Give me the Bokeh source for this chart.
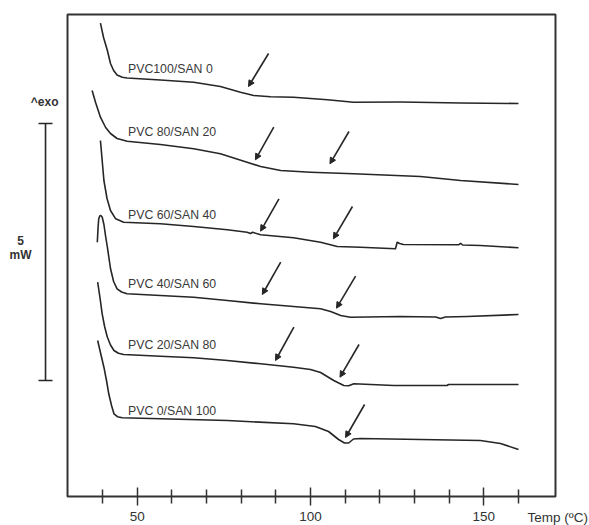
from bokeh.plotting import figure
from bokeh.models import (Range1d, FixedTicker, ColumnDataSource, Arrow, NormalHead,
                          TeeHead, Label, LabelSet, LinearAxis)
from bokeh.core.properties import value
from bokeh.embed import file_html
from bokeh.resources import INLINE

# ---- data: temperature (deg C) and heat flow (arbitrary units, curves offset) ----
t_pvc100 = [39.4, 40.3, 41.4, 42.3, 43.2, 44.2, 45.7, 47.1, 56.7, 66.3, 74.0, 79.8, 83.6, 88.5,
            95.1, 104.9, 112.4, 126.0, 143.3, 160.0]
y_pvc100 = [473.3, 459, 446, 433, 426, 421.5, 419.3, 418.5, 416.5, 414.3, 410, 404.3, 401, 399.7,
            399.3, 396.7, 394.3, 394.5, 393.5, 393]

t_pvc80 = [37.0, 38.0, 39.4, 40.9, 42.3, 44.2, 47.1, 56.7, 66.3, 74.0, 81.7, 85.6, 91.4, 100.0,
           112.4, 131.7, 143.3, 160.0]
y_pvc80 = [406, 394, 379.3, 369, 363, 358, 355.3, 352, 347.7, 342.7, 334.3, 330, 326, 324.3,
           322.7, 320, 316, 312]

t_pvc60 = [39.4, 39.9, 40.4, 41.3, 42.3, 43.8, 46.1, 56.7, 66.3, 76.0, 81.7, 82.7, 83.3, 85.6,
           95.1, 102.9, 107.7, 114.4, 124.5, 125.0, 125.7, 126.8, 142.7, 143.3, 143.9, 149.0, 160.0]
y_pvc60 = [356, 336, 316, 298, 286, 277.7, 274.3, 272.7, 270, 266.7, 264.3, 263, 264.2, 261.7,
           258.7, 254.3, 250, 249.3, 247.7, 254.3, 253, 252, 251.7, 253.2, 251.5, 251, 248.7]

t_pvc40 = [38.5, 38.7, 38.9, 39.2, 39.5, 39.9, 40.4, 40.9, 41.4, 42.3, 43.2, 44.2, 45.5, 47.1, 56.7,
           66.3, 76.0, 85.6, 95.1, 102.9, 105.8, 108.7, 111.5, 126.0, 136.1, 137.5, 138.9, 145.2, 160.0]
y_pvc40 = [254.3, 268, 277.5, 280.5, 281, 279.5, 272, 260, 249.3, 228, 215, 207.7, 204.5, 202.7, 201,
           199.3, 196, 192.7, 190, 187.7, 185, 181, 179.3, 180, 179.5, 178, 179.5, 180, 182]

t_pvc20 = [38.6, 39.3, 39.9, 40.6, 41.4, 42.3, 43.3, 44.6, 46.1, 56.7, 66.3, 76.0, 85.6, 95.1,
           100.0, 102.9, 106.7, 109.6, 111.0, 112.5, 124.0, 139.4, 139.8, 160.0]
y_pvc20 = [214.3, 198, 182.7, 170, 159.3, 151.5, 146, 143.2, 142, 140.3, 138.7, 136, 132.7, 129.3,
           127, 124, 116, 111, 110.8, 112.7, 111, 111, 112, 112]

t_pvc0 = [38.6, 39.4, 40.4, 41.2, 41.8, 42.6, 43.3, 44.3, 45.7, 56.7, 76.0, 95.1, 101.4, 105.2,
          108.1, 109.8, 111.0, 112.4, 114.4, 131.7, 149.0, 154.8, 160.0]
y_pvc0 = [156, 144, 129.3, 115, 102.7, 91, 82.7, 79.8, 78.7, 77.7, 76, 72.7, 70, 65,
          57, 53.5, 53.5, 57.5, 58, 57, 56, 53, 47]

curve_names = ["PVC100/SAN 0", "PVC 80/SAN 20", "PVC 60/SAN 40",
               "PVC 40/SAN 60", "PVC 20/SAN 80", "PVC 0/SAN 100"]
name_t = [47.35] * 6
name_y = [428, 364.3, 281.7, 212.7, 152, 86]

# Tg arrows (tail -> tip)
arrow_t0 = [87.9, 89.4, 111.1, 90.9, 112.1, 91.4, 113.0, 95.2, 114.0, 115.6]
arrow_y0 = [443, 369.3, 365, 297.7, 290, 234.3, 220.3, 169.3, 152, 92]
arrow_t1 = [82.1, 84.1, 105.6, 85.6, 106.6, 86.1, 107.5, 89.9, 108.5, 110.1]
arrow_y1 = [410, 336.7, 332.7, 265.3, 257.7, 202, 188.3, 136, 119.3, 59]

major_ticks = [50, 100, 150]
minor_ticks = [40, 60, 70, 80, 90, 110, 120, 130, 140, 160]

# plotting box (data limits of the drawn frame)
box_t = (29.9, 170.67)
box_y = (0, 482)

# scale bar: 5 mW
bar_t = 23.56
bar_low, bar_high = 116, 373

INK = "#262626"
FONT = "Arial"

p = figure(width=589, height=525, x_range=Range1d(10.57, 180.48), y_range=Range1d(-29, 496),
           output_backend="svg", toolbar_location=None, x_axis_location=None,
           y_axis_location=None, min_border=0)
p.grid.visible = False
p.outline_line_color = None
p.background_fill_color = "white"
p.border_fill_color = "white"

# frame box
p.quad(left=box_t[0], right=box_t[1], bottom=box_y[0], top=box_y[1],
       fill_color=None, line_color="#333333", line_width=2)

xa = LinearAxis(fixed_location=0)
p.add_layout(xa, "below")
xa.ticker = FixedTicker(ticks=major_ticks, minor_ticks=minor_ticks)
xa.axis_line_color = None
xa.major_tick_line_color = "#333333"
xa.major_tick_line_width = 1.5
xa.major_tick_in = 9
xa.major_tick_out = 9
xa.minor_tick_line_color = "#333333"
xa.minor_tick_line_width = 1.5
xa.minor_tick_in = 7
xa.minor_tick_out = 7
xa.major_label_standoff = 6
xa.major_label_text_font = FONT
xa.major_label_text_font_size = "13.5px"
xa.major_label_text_color = "#333333"

for t, y in [(t_pvc100, y_pvc100), (t_pvc80, y_pvc80), (t_pvc60, y_pvc60),
             (t_pvc40, y_pvc40), (t_pvc20, y_pvc20), (t_pvc0, y_pvc0)]:
    p.line(t, y, line_color=INK, line_width=1.6, line_join="round")

names_src = ColumnDataSource(dict(x=name_t, y=name_y, text=curve_names))
p.add_layout(LabelSet(x="x", y="y", text="text", source=names_src, text_align="left",
                      text_baseline="middle", text_font=value(FONT),
                      text_font_size=value("12.3px"), text_color="#3a3a3a"))

arr_src = ColumnDataSource(dict(x0=arrow_t0, y0=arrow_y0, x1=arrow_t1, y1=arrow_y1))
p.add_layout(Arrow(end=NormalHead(size=6, fill_color=INK, line_color=INK, line_width=1),
                   source=arr_src, x_start="x0", y_start="y0", x_end="x1", y_end="y1",
                   line_color=INK, line_width=1.6))

# scale bar
p.add_layout(Arrow(start=TeeHead(size=14, line_color=INK, line_width=1.6),
                   end=TeeHead(size=14, line_color=INK, line_width=1.6),
                   x_start=bar_t, y_start=bar_low, x_end=bar_t, y_end=bar_high,
                   line_color=INK, line_width=1.6))
p.add_layout(Label(x=23.3, y=395, text="^exo", text_align="center", text_baseline="middle",
                   text_font=FONT, text_font_size="12px", text_font_style="bold",
                   text_color="#333333"))
p.add_layout(Label(x=16.35, y=256, text="5", text_align="center", text_baseline="middle",
                   text_font=FONT, text_font_size="12px", text_font_style="bold",
                   text_color="#333333"))
p.add_layout(Label(x=16.35, y=242, text="mW", text_align="center", text_baseline="middle",
                   text_font=FONT, text_font_size="12px", text_font_style="bold",
                   text_color="#333333"))
p.add_layout(Label(x=162.6, y=-20.5, text="Temp (ºC)", text_align="left", text_baseline="middle",
                   text_font=FONT, text_font_size="13.5px", text_color="#333333"))

open("out.html", "w").write(file_html(p, INLINE))
